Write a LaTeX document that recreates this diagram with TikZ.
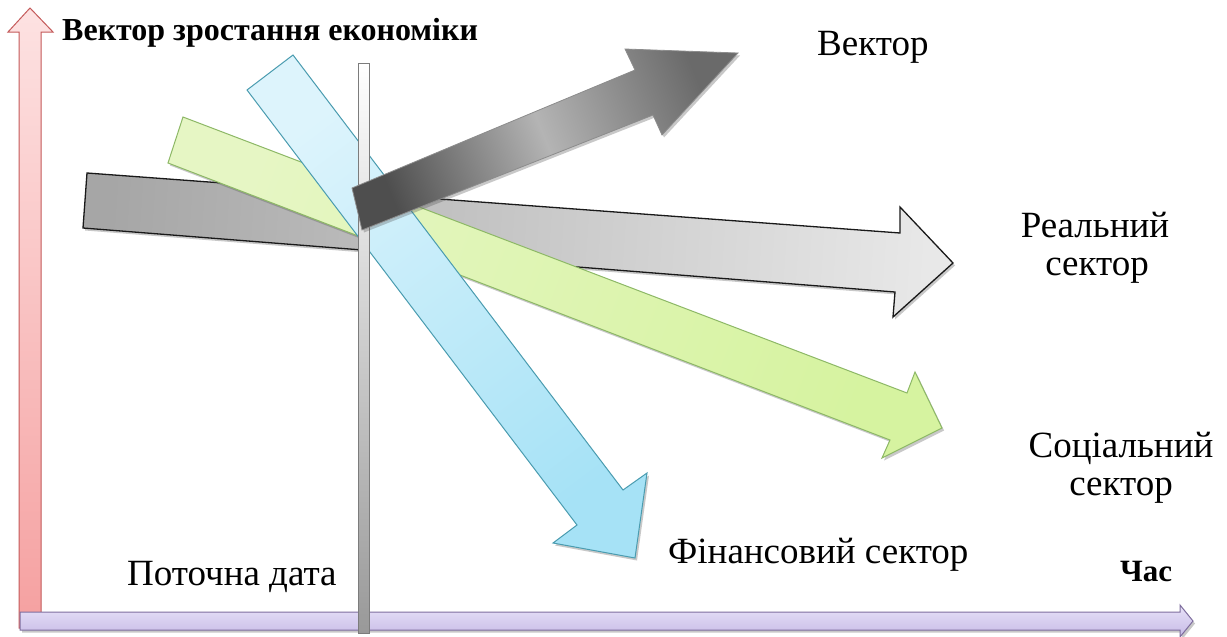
\documentclass[tikz,border=0pt]{standalone}
\usepackage{fontspec}
\setmainfont{Liberation Serif}
\usetikzlibrary{shadows}
\definecolor{redfill1}{HTML}{FDE2E2}
\definecolor{redfill2}{HTML}{F5A0A0}
\definecolor{redline}{HTML}{C45A5A}
\definecolor{purfill1}{HTML}{E8E2F8}
\definecolor{purfill2}{HTML}{C6BAE6}
\definecolor{purline}{HTML}{7E6E9E}
\definecolor{realfill1}{HTML}{A6A6A6}
\definecolor{realfill2}{HTML}{E8E8E8}
\definecolor{greenfill1}{HTML}{E6F6C4}
\definecolor{greenfill2}{HTML}{D6F3A0}
\definecolor{greenline}{HTML}{8DB866}
\definecolor{bluefill1}{HTML}{DDF4FC}
\definecolor{bluefill2}{HTML}{A6E2F6}
\definecolor{blueline}{HTML}{4A9CB0}
\definecolor{darkfill1}{HTML}{4E4E4E}
\definecolor{darkfill2}{HTML}{B4B4B4}
\definecolor{darkfill3}{HTML}{6A6A6A}
\definecolor{barline}{HTML}{7C7C7C}
\tikzset{
  soft/.style={drop shadow={shadow xshift=2pt, shadow yshift=-2.5pt, opacity=0.3, fill=black!70}},
  redaxis/.style={draw=redline, line width=1pt, top color=redfill1, bottom color=redfill2},
  puraxis/.style={draw=purline, line width=1pt, top color=purfill1, bottom color=purfill2, soft},
  realarrow/.style={draw=black!90, line width=1.3pt, left color=realfill1, right color=realfill2, shading angle=86, soft},
  greenarrow/.style={draw=greenline, line width=1pt, left color=greenfill1, right color=greenfill2, shading angle=69, soft},
  bluearrow/.style={draw=blueline, line width=1pt, left color=bluefill1, right color=bluefill2, shading angle=37, soft},
  darkarrow/.style={draw=black!45, line width=0.8pt, left color=darkfill1, right color=darkfill3, middle color=darkfill2, shading angle=112, soft},
  datebar/.style={draw=barline, line width=1pt, top color=white, bottom color=black!40},
  lbl/.style={font=\fontsize{37}{41}\selectfont, inner sep=0pt},
  boldlbl/.style={font=\bfseries\fontsize{32}{36}\selectfont, inner sep=0pt}
}
\begin{document}
\begin{tikzpicture}[x=1pt,y=-1pt]
\useasboundingbox (0,0) rectangle (1227,637);
\fill[white] (0,0) rectangle (1227,637);
% vertical axis
\path[redaxis] (19,32) -- (8,32) -- (30,8) -- (53,32) -- (41,32) -- (41,628) -- (19,628) -- cycle;
% horizontal axis
\path[puraxis] (20,612) -- (1180,612) -- (1180,605) -- (1193,621) -- (1180,637) -- (1180,630) -- (20,630) -- cycle;
% real sector arrow
\path[realarrow] (87,173) -- (900,233) -- (900,207) -- (953,263) -- (893,317) -- (895,292) -- (83,228) -- cycle;
% social sector arrow
\path[greenarrow] (183,117) -- (907,393) -- (915,372) -- (942,428) -- (882,458) -- (890,440) -- (168,163) -- cycle;
% financial sector arrow
\path[bluearrow] (293,55) -- (623,490) -- (647,473) -- (635,558) -- (553,543) -- (577,525) -- (247,90) -- cycle;
% current date bar
\path[datebar] (358,63) rectangle (369,633);
% vector arrow
\path[darkarrow] (352,188) -- (635,70) -- (625,49) -- (738,53) -- (662,135) -- (653,115) -- (362,230) -- cycle;
% labels
\node[boldlbl, anchor=base west] (title) at (62,40) {Вектор зростання економіки};
\node[lbl, anchor=base west] (vec) at (817,55) {Вектор};
\node[lbl, anchor=base] (real1) at (1095,237) {Реальний};
\node[lbl, anchor=base] (real2) at (1097,275) {сектор};
\node[lbl, anchor=base] (soc1) at (1121,457) {Соціальний};
\node[lbl, anchor=base] (soc2) at (1121,495) {сектор};
\node[lbl, anchor=base west] (fin) at (668,563) {Фінансовий сектор};
\node[lbl, anchor=base west] (date) at (127,585) {Поточна дата};
\node[boldlbl, font=\bfseries\fontsize{31}{35}\selectfont, anchor=base west] (time) at (1120,581) {Час};
\end{tikzpicture}
\end{document}
